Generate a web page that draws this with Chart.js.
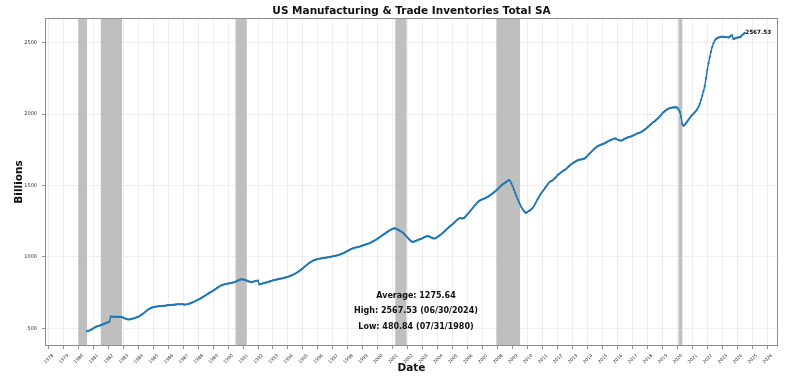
<!DOCTYPE html>
<html>
<head>
<meta charset="utf-8">
<script src="https://cdn.jsdelivr.net/npm/chart.js@4.4.1/dist/chart.umd.min.js"></script>
<style>
  html, body { margin: 0; padding: 0; background: #ffffff; }
  #wrap { width: 800px; height: 384px; }
</style>
</head>
<body>
<div id="wrap"><canvas id="c" width="800" height="384"></canvas></div>
<script>
// ---------- DATA ----------
const chartTitle = 'US Manufacturing & Trade Inventories Total SA';
const yAxisTitle = 'Billions';
const xAxisTitle = 'Date';
const startYear = 1980;   // first observation: July 1980 (month-end)
const startMonth = 7;
// Monthly values, billions (Jul 1980 .. Jun 2024)
const inventories = [
  480.84, 482, 485, 489, 494, 500,                                  // 1980 (Jul-Dec)
  505, 510, 514, 516, 519, 522, 525, 529, 533, 537, 540, 544,       // 1981
  548, 583, 582, 581, 582, 580, 581, 580, 581, 580, 578, 575,       // 1982
  571, 567, 564, 562, 563, 565, 567, 569, 572, 575, 578, 581,       // 1983
  586, 592, 598, 604, 611, 618, 625, 632, 637, 642, 645, 648,       // 1984
  650, 652, 653, 654, 655, 656, 656, 657, 658, 659, 661, 662,       // 1985
  663, 664, 665, 664, 666, 667, 668, 669, 668, 669, 670, 668,       // 1986
  666, 667, 668, 670, 673, 676, 680, 684, 688, 692, 696, 701,       // 1987
  705, 710, 715, 720, 725, 731, 737, 743, 748, 753, 758, 763,       // 1988
  769, 775, 781, 787, 793, 798, 802, 805, 808, 810, 812, 814,       // 1989
  815, 817, 819, 821, 823, 826, 830, 835, 839, 842, 843, 842,       // 1990
  840, 838, 834, 830, 827, 825, 824, 826, 829, 831, 833, 834,       // 1991
  808, 810, 812, 815, 817, 820, 822, 825, 827, 830, 833, 836,       // 1992
  838, 840, 842, 844, 846, 848, 849, 851, 853, 855, 858, 861,       // 1993
  864, 867, 871, 875, 879, 884, 889, 895, 901, 907, 914, 921,       // 1994
  929, 936, 943, 950, 957, 963, 968, 973, 977, 980, 983, 985,       // 1995
  987, 989, 990, 992, 993, 994, 996, 997, 998, 1000, 1002, 1004,    // 1996
  1006, 1008, 1010, 1012, 1015, 1018, 1021, 1025, 1029, 1033, 1038, 1042, // 1997
  1047, 1052, 1056, 1060, 1063, 1065, 1067, 1069, 1071, 1074, 1077, 1080, // 1998
  1083, 1086, 1089, 1092, 1095, 1099, 1103, 1108, 1113, 1118, 1123, 1129, // 1999
  1135, 1141, 1147, 1153, 1159, 1165, 1171, 1177, 1183, 1188, 1193, 1197, // 2000
  1200, 1199, 1196, 1191, 1186, 1181, 1176, 1170, 1162, 1152, 1143, 1133, // 2001
  1123, 1115, 1108, 1105, 1107, 1110, 1114, 1118, 1121, 1124, 1127, 1131, // 2002
  1136, 1140, 1144, 1146, 1143, 1139, 1135, 1131, 1128, 1130, 1135, 1141, // 2003
  1147, 1153, 1160, 1168, 1176, 1184, 1192, 1200, 1208, 1215, 1222, 1230, // 2004
  1238, 1246, 1254, 1262, 1268, 1271, 1270, 1269, 1272, 1280, 1290, 1300, // 2005
  1310, 1320, 1331, 1342, 1352, 1362, 1372, 1382, 1390, 1396, 1400, 1404, // 2006
  1407, 1411, 1415, 1420, 1426, 1432, 1438, 1444, 1451, 1458, 1466, 1474, // 2007
  1483, 1492, 1500, 1507, 1513, 1518, 1525, 1532, 1538, 1533, 1515, 1495, // 2008
  1472, 1450, 1428, 1405, 1385, 1367, 1350, 1335, 1322, 1312, 1308, 1316, // 2009
  1321, 1326, 1333, 1342, 1355, 1370, 1386, 1402, 1418, 1432, 1445, 1458, // 2010
  1470, 1481, 1493, 1506, 1519, 1527, 1530, 1536, 1544, 1552, 1560, 1572, // 2011
  1578, 1585, 1592, 1599, 1605, 1610, 1617, 1625, 1633, 1641, 1648, 1655, // 2012
  1660, 1665, 1670, 1675, 1679, 1681, 1682, 1684, 1686, 1690, 1698, 1708, // 2013
  1717, 1725, 1734, 1743, 1752, 1760, 1767, 1773, 1778, 1782, 1786, 1789, // 2014
  1792, 1796, 1801, 1806, 1811, 1815, 1819, 1823, 1827, 1829, 1826, 1821, // 2015
  1818, 1815, 1814, 1817, 1822, 1827, 1831, 1835, 1838, 1840, 1843, 1847, // 2016
  1851, 1855, 1860, 1864, 1867, 1870, 1874, 1879, 1885, 1891, 1898, 1906, // 2017
  1914, 1922, 1930, 1937, 1944, 1950, 1958, 1966, 1974, 1983, 1993, 2004, // 2018
  2013, 2020, 2027, 2033, 2038, 2041, 2043, 2045, 2046, 2047, 2046, 2044, // 2019
  2030, 2015, 1980, 1930, 1917, 1924, 1936, 1948, 1960, 1972, 1983, 1994, // 2020
  2003, 2012, 2022, 2034, 2050, 2072, 2099, 2128, 2160, 2195, 2250, 2309, // 2021
  2355, 2398, 2437, 2470, 2495, 2514, 2524, 2531, 2535, 2538, 2540, 2541, // 2022
  2540, 2538, 2539, 2537, 2536, 2540, 2548, 2550, 2524, 2527, 2532, 2534, // 2023
  2536, 2538, 2541, 2552, 2560, 2567.53                               // 2024 (Jan-Jun)
];
// Recession periods (first month, last month)
const recessionStart = ['1980-01', '1981-07', '1990-07', '2001-03', '2007-12', '2020-02'];
const recessionEnd   = ['1980-07', '1982-11', '1991-03', '2001-11', '2009-06', '2020-04'];
const xTickYears = [1978,1979,1980,1981,1982,1983,1984,1985,1986,1987,1988,1989,1990,1991,1992,1993,1994,1995,1996,1997,1998,1999,2000,2001,2002,2003,2004,2005,2006,2007,2008,2009,2010,2011,2012,2013,2014,2015,2016,2017,2018,2019,2020,2021,2022,2023,2024,2025,2026];
const yTickValues = [500, 1000, 1500, 2000, 2500];
const statsLines = ['Average: 1275.64', 'High: 2567.53 (06/30/2024)', 'Low: 480.84 (07/31/1980)'];
const lastValueLabel = '2567.53';

// ---------- BUILD ----------
const monthEnd = (y, m) => y + m / 12;          // decimal year at end of month m (1-12)
const monthStart = (y, m) => y + (m - 1) / 12;
const points = inventories.map((v, i) => {
  const idx = startMonth - 1 + i;
  const y = startYear + Math.floor(idx / 12);
  const m = (idx % 12) + 1;
  return { x: monthEnd(y, m), y: v };
});
const parseYM = s => s.split('-').map(Number);
const bands = recessionStart.map((s, i) => {
  const [y1, m1] = parseYM(s);
  const [y2, m2] = parseYM(recessionEnd[i]);
  return [monthStart(y1, m1), monthEnd(y2, m2)];
});
// matplotlib-like 5% margins over data + recession spans
const allX = points.map(p => p.x).concat(bands.flat());
const allY = inventories;
const xMinD = Math.min(...allX), xMaxD = Math.max(...allX);
const yMinD = Math.min(...allY), yMaxD = Math.max(...allY);
const xPad = (xMaxD - xMinD) * 0.05, yPad = (yMaxD - yMinD) * 0.05;

const FONT = "'DejaVu Sans', 'Liberation Sans', sans-serif";
const BLUE = '#1f77b4';

const decorPlugin = {
  id: 'decor',
  beforeDatasetsDraw(chart) {
    const { ctx, chartArea: a, scales: { x } } = chart;
    ctx.save();
    ctx.fillStyle = '#bfbfbf';
    bands.forEach(([s, e]) => {
      const x1 = x.getPixelForValue(s), x2 = x.getPixelForValue(e);
      ctx.fillRect(x1, a.top, x2 - x1, a.bottom - a.top);
    });
    ctx.strokeStyle = '#8f8f8f';
    ctx.lineWidth = 1;
    ctx.strokeRect(a.left + 0.5, a.top + 0.5, a.right - a.left - 1, a.bottom - a.top - 1);
    ctx.restore();
  },
  afterDatasetsDraw(chart) {
    const { ctx, chartArea: a, scales: { x, y } } = chart;
    ctx.save();
    ctx.fillStyle = '#111';
    ctx.textAlign = 'center';
    ctx.textBaseline = 'middle';
    ctx.font = `bold 8px ${FONT}`;
    const cx = (a.left + a.right) / 2 + 4.5;
    statsLines.forEach((t, i) => ctx.fillText(t, cx, a.bottom - 50 + i * 15.3));
    const last = points[points.length - 1];
    ctx.font = `bold 5.7px ${FONT}`;
    ctx.textAlign = 'left';
    ctx.fillText(lastValueLabel, x.getPixelForValue(last.x) + 0.5, y.getPixelForValue(last.y));
    ctx.restore();
  }
};

new Chart(document.getElementById('c'), {
  type: 'line',
  data: {
    datasets: [{
      data: points,
      borderColor: BLUE,
      backgroundColor: BLUE,
      borderWidth: 1.4,
      pointRadius: 1.1,
      pointBorderWidth: 0,
      pointBackgroundColor: BLUE,
      tension: 0,
      fill: false
    }]
  },
  options: {
    responsive: false,
    animation: false,
    devicePixelRatio: 1,
    layout: { padding: { left: 0, top: 0, right: 22, bottom: 0 } },
    plugins: {
      legend: { display: false },
      tooltip: { enabled: false },
      title: {
        display: true,
        fullSize: false,
        text: chartTitle,
        color: '#111',
        font: { family: FONT, size: 10.5, weight: 'bold' },
        padding: { top: 5, bottom: 0.4 }
      }
    },
    scales: {
      x: {
        type: 'linear',
        min: xMinD - xPad,
        max: xMaxD + xPad,
        afterBuildTicks: s => { s.ticks = xTickYears.map(v => ({ value: v })); },
        afterFit: s => { s.height = 38; },
        border: { display: false },
        grid: { color: '#e6e6e6', lineWidth: 0.7, drawTicks: true, tickLength: 3, tickColor: '#666', tickWidth: 0.7 },
        ticks: {
          autoSkip: false, minRotation: 45, maxRotation: 45, padding: 4, labelOffset: 4.5,
          color: '#333', font: { family: FONT, size: 4.5 },
          callback: v => String(v)
        },
        title: {
          display: true, text: xAxisTitle, color: '#111',
          font: { family: FONT, size: 10.5, weight: 'bold' },
          padding: { top: 0, bottom: 9.7 }
        }
      },
      y: {
        type: 'linear',
        min: yMinD - yPad,
        max: yMaxD + yPad,
        afterBuildTicks: s => { s.ticks = yTickValues.map(v => ({ value: v })); },
        afterFit: s => { s.width = 45; },
        border: { display: false },
        grid: { color: '#e6e6e6', lineWidth: 0.7, drawTicks: true, tickLength: 3, tickColor: '#666', tickWidth: 0.7 },
        ticks: {
          padding: 5, color: '#333', font: { family: FONT, size: 5 },
          callback: v => String(v)
        },
        title: {
          display: true, text: yAxisTitle, color: '#111',
          font: { family: FONT, size: 10.5, weight: 'bold' },
          padding: { top: 13, bottom: 0 }
        }
      }
    }
  },
  plugins: [decorPlugin]
});
</script>
</body>
</html>
